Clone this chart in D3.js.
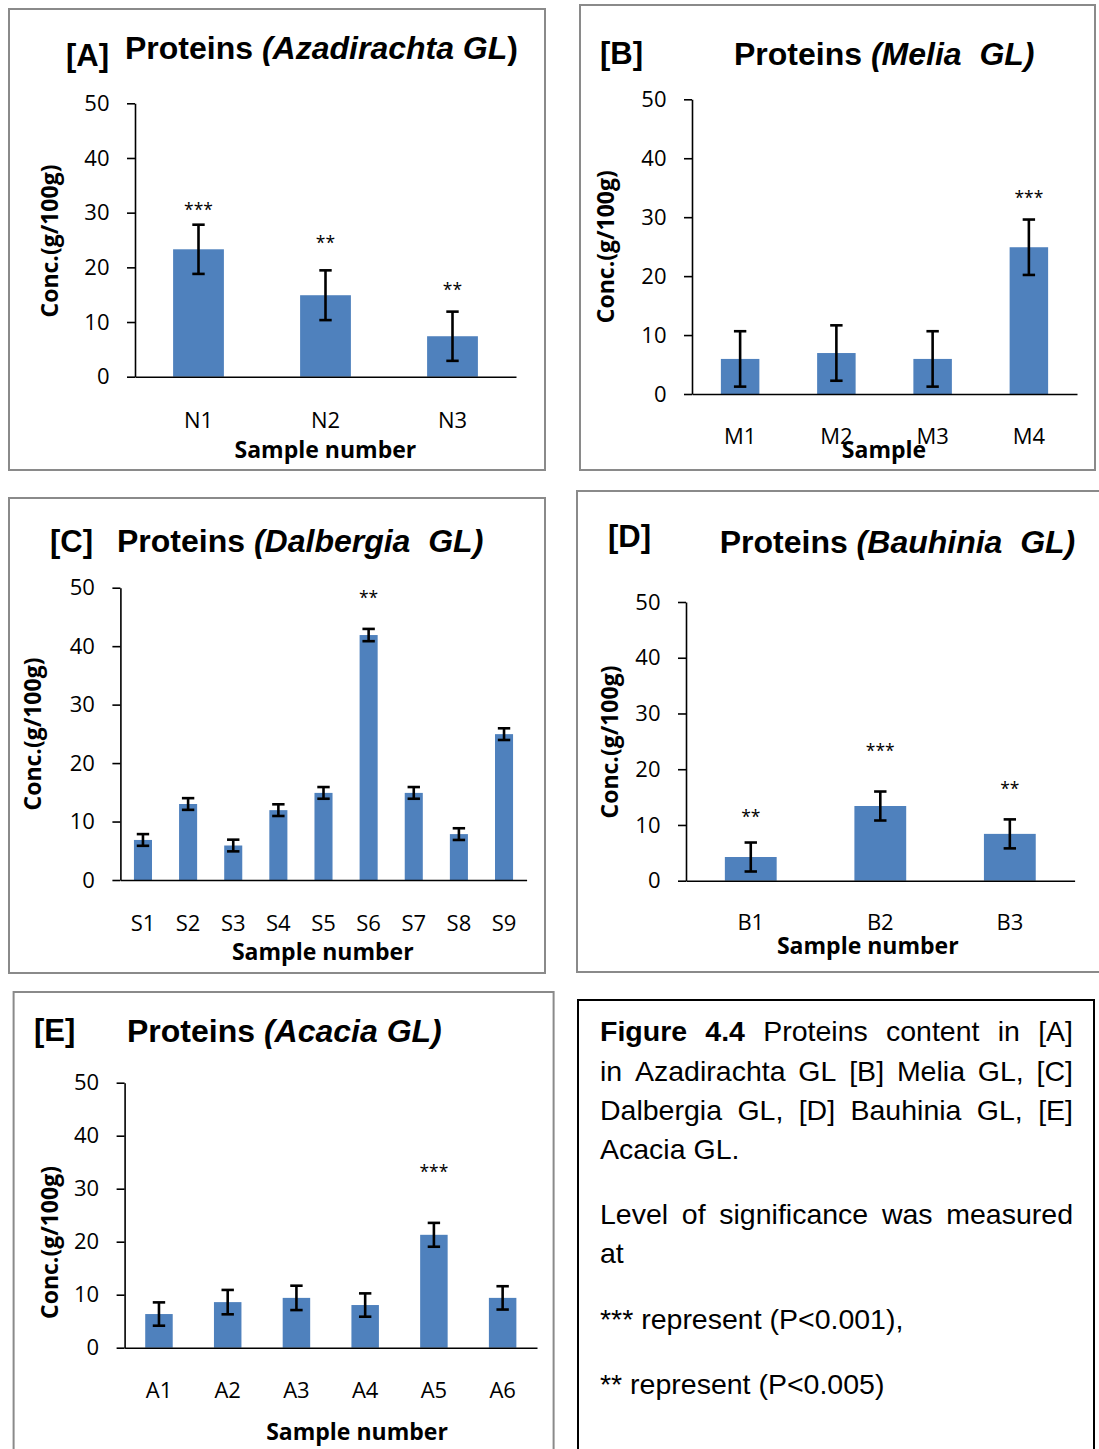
<!DOCTYPE html>
<html>
<head>
<meta charset="utf-8">
<script src="https://cdn.jsdelivr.net/npm/d3@7"></script>
<style>
body { margin: 0; background: #fff; }
text { white-space: pre; }
</style>
</head>
<body>
<script>
// shared y ticks
const yTicks = [0, 10, 20, 30, 40, 50];

// [A] Azadirachta GL
const catsA = ["N1", "N2", "N3"];
const valsA = [23.3, 14.9, 7.4];
const errA = [4.5, 4.55, 4.5];
const starsA = ["***", "**", "**"];
const starAtA = [31.3, 25.1, 16.5];

// [B] Melia GL
const catsB = ["M1", "M2", "M3", "M4"];
const valsB = [5.95, 6.95, 5.95, 24.9];
const errB = [4.7, 4.7, 4.7, 4.7];
const starsB = ["", "", "", "***"];
const starAtB = [0, 0, 0, 33.9];

// [C] Dalbergia GL
const catsC = ["S1", "S2", "S3", "S4", "S5", "S6", "S7", "S8", "S9"];
const valsC = [6.85, 13, 5.9, 11.95, 14.9, 41.9, 14.9, 7.85, 24.95];
const errC = [1, 1, 1, 1, 1, 1.05, 1, 1, 1];
const starsC = ["", "", "", "", "", "**", "", "", ""];
const starAtC = [0, 0, 0, 0, 0, 48.9, 0, 0, 0];

// [D] Bauhinia GL
const catsD = ["B1", "B2", "B3"];
const valsD = [4.25, 13.4, 8.4];
const errD = [2.6, 2.6, 2.6];
const starsD = ["**", "***", "**"];
const starAtD = [12.1, 24.0, 17.1];

// [E] Acacia GL
const catsE = ["A1", "A2", "A3", "A4", "A5", "A6"];
const valsE = [6.35, 8.6, 9.4, 8.05, 21.3, 9.4];
const errE = [2.2, 2.3, 2.3, 2.2, 2.25, 2.2];
const starsE = ["", "", "", "", "***", ""];
const starAtE = [0, 0, 0, 0, 34.0, 0];

const barColor = "#4f81bd";
const axisFont = "'Open Sans', sans-serif";
const titleFont = "'Liberation Sans', Arial, sans-serif";

const panels = [
  {label: "[A]", name: "Azadirachta GL", cats: catsA, vals: valsA, err: errA, stars: starsA, starAt: starAtA,
   frame: [9, 9, 536, 461], left: 135, right: 516, top: 103.3, bottom: 376.7,
   labX: 66, labY: 65.5, titleX: 125, titleY: 58.5, closeUpright: true,
   yTitleX: 58, yTitleY: 241, catY: 427.7, xTitle: "Sample number", xTitleX: 325.4, xTitleY: 458},
  {label: "[B]", name: "Melia  GL", cats: catsB, vals: valsB, err: errB, stars: starsB, starAt: starAtB,
   frame: [580, 5, 515, 465], left: 692, right: 1077, top: 99.3, bottom: 394,
   labX: 600, labY: 63.5, titleX: 734, titleY: 65,
   yTitleX: 614, yTitleY: 246.7, catY: 444, xTitle: "Sample", xTitleX: 884, xTitleY: 458.3},
  {label: "[C]", name: "Dalbergia  GL", cats: catsC, vals: valsC, err: errC, stars: starsC, starAt: starAtC,
   frame: [9, 498, 536, 475], left: 120.4, right: 526.6, top: 587.7, bottom: 880,
   labX: 50, labY: 551.5, titleX: 117, titleY: 551.7,
   yTitleX: 41.4, yTitleY: 734, catY: 930.7, xTitle: "Sample number", xTitleX: 322.8, xTitleY: 960},
  {label: "[D]", name: "Bauhinia  GL", cats: catsD, vals: valsD, err: errD, stars: starsD, starAt: starAtD,
   frame: [577, 491, 530, 481], left: 686, right: 1074.6, top: 602, bottom: 880.7,
   labX: 608, labY: 547, titleX: 719.7, titleY: 553.3,
   yTitleX: 618, yTitleY: 742, catY: 930, xTitle: "Sample number", xTitleX: 867.8, xTitleY: 954},
  {label: "[E]", name: "Acacia GL", cats: catsE, vals: valsE, err: errE, stars: starsE, starAt: starAtE,
   frame: [13.6, 992, 540, 470], left: 124.6, right: 537, top: 1082.7, bottom: 1347.7,
   labX: 34, labY: 1041, titleX: 127, titleY: 1042.3,
   yTitleX: 58.4, yTitleY: 1242.5, catY: 1397.7, xTitle: "Sample number", xTitleX: 357, xTitleY: 1440}
];

const svg = d3.select("body")
  .append("svg")
  .attr("width", 1099)
  .attr("height", 1449);

svg.append("rect").attr("width", 1099).attr("height", 1449).attr("fill", "#fff");

panels.forEach(drawPanel);

function drawPanel(p) {
  const g = svg.append("g");

  g.append("rect")
    .attr("x", p.frame[0]).attr("y", p.frame[1])
    .attr("width", p.frame[2]).attr("height", p.frame[3])
    .attr("fill", "none")
    .attr("stroke", "#8a8a8a")
    .attr("stroke-width", 2);

  let data = p.cats.map((c, i) => ({cat: c, v: p.vals[i], e: p.err[i], star: p.stars[i], sy: p.starAt[i]}));

  let x = d3.scaleBand()
    .domain(p.cats)
    .range([p.left, p.right])
    .paddingInner(0.6)
    .paddingOuter(0.3);            // bar = 40% of each slot, like excel gap 150%

  let y = d3.scaleLinear()
    .domain([0, 50])
    .range([p.bottom, p.top]);

  // bars
  g.selectAll(".bar")
    .data(data)
    .enter()
    .append("rect")
      .attr("x", d => x(d.cat))
      .attr("y", d => y(d.v))
      .attr("width", x.bandwidth())
      .attr("height", d => y(0) - y(d.v))
      .attr("fill", barColor);

  // error bars
  const cap = 6.2;
  let eb = g.selectAll(".err")
    .data(data)
    .enter()
    .append("g")
      .attr("stroke", "#000")
      .attr("stroke-width", 2.6);
  eb.append("line")
    .attr("x1", d => x(d.cat) + x.bandwidth() / 2)
    .attr("x2", d => x(d.cat) + x.bandwidth() / 2)
    .attr("y1", d => y(d.v + d.e))
    .attr("y2", d => y(d.v - d.e));
  eb.append("line")
    .attr("x1", d => x(d.cat) + x.bandwidth() / 2 - cap)
    .attr("x2", d => x(d.cat) + x.bandwidth() / 2 + cap)
    .attr("y1", d => y(d.v + d.e))
    .attr("y2", d => y(d.v + d.e));
  eb.append("line")
    .attr("x1", d => x(d.cat) + x.bandwidth() / 2 - cap)
    .attr("x2", d => x(d.cat) + x.bandwidth() / 2 + cap)
    .attr("y1", d => y(d.v - d.e))
    .attr("y2", d => y(d.v - d.e));

  // significance stars
  g.selectAll(".star")
    .data(data.filter(d => d.star))
    .enter()
    .append("text")
      .attr("x", d => x(d.cat) + x.bandwidth() / 2)
      .attr("y", d => y(d.sy) + 10)
      .attr("text-anchor", "middle")
      .attr("font-family", axisFont)
      .attr("font-size", 17.5)
      .attr("fill", "#000")
      .text(d => d.star);

  // axes
  let yAxis = g.append("g")
    .attr("transform", `translate(${p.left}, 0)`)
    .call(d3.axisLeft(y).tickValues(yTicks).tickSize(8).tickSizeOuter(0).tickPadding(17.5));

  let xAxis = g.append("g")
    .attr("transform", `translate(0, ${p.bottom})`)
    .call(d3.axisBottom(x).tickSize(0).tickSizeOuter(0));

  [yAxis, xAxis].forEach(a => {
    a.select(".domain").attr("stroke", "#000").attr("stroke-width", 1.6);
    a.selectAll(".tick line").attr("stroke", "#000").attr("stroke-width", 1.6);
    a.selectAll("text")
      .attr("font-family", axisFont)
      .attr("font-size", 22)
      .attr("fill", "#000");
  });
  xAxis.selectAll("text")
    .attr("y", p.catY - p.bottom)
    .attr("dy", null);

  // titles
  g.append("text")
    .attr("x", p.labX).attr("y", p.labY)
    .attr("font-family", titleFont)
    .attr("font-weight", "bold")
    .attr("font-size", 31)
    .text(p.label);

  let t = g.append("text")
    .attr("x", p.titleX).attr("y", p.titleY)
    .attr("font-family", titleFont)
    .attr("font-weight", "bold")
    .attr("font-size", 32);
  t.append("tspan").text("Proteins ");
  t.append("tspan").attr("font-style", "italic").text("(" + p.name);
  t.append("tspan").attr("font-style", p.closeUpright ? "normal" : "italic").text(")");

  g.append("text")
    .attr("transform", `translate(${p.yTitleX}, ${p.yTitleY}) rotate(-90)`)
    .attr("text-anchor", "middle")
    .attr("font-family", axisFont)
    .attr("font-weight", "bold")
    .attr("font-size", 23)
    .text("Conc.(g/100g)");

  g.append("text")
    .attr("x", p.xTitleX).attr("y", p.xTitleY)
    .attr("text-anchor", "middle")
    .attr("font-family", axisFont)
    .attr("font-weight", "bold")
    .attr("font-size", 23)
    .text(p.xTitle);
}

// caption box
const cap = svg.append("g");
cap.append("rect")
  .attr("x", 578).attr("y", 1000)
  .attr("width", 516).attr("height", 470)
  .attr("fill", "none")
  .attr("stroke", "#000")
  .attr("stroke-width", 2);

const capLeft = 600, capRight = 1073, capSize = 28.5;
const capLines = [
  {y: 1041, just: true, words: [["Figure", 1], ["4.4", 1], ["Proteins"], ["content"], ["in"], ["[A]"]]},
  {y: 1081, just: true, words: [["in"], ["Azadirachta"], ["GL"], ["[B]"], ["Melia"], ["GL,"], ["[C]"]]},
  {y: 1120, just: true, words: [["Dalbergia"], ["GL,"], ["[D]"], ["Bauhinia"], ["GL,"], ["[E]"]]},
  {y: 1159, words: [["Acacia GL."]]},
  {y: 1224, just: true, words: [["Level"], ["of"], ["significance"], ["was"], ["measured"]]},
  {y: 1263, words: [["at"]]},
  {y: 1329, words: [["*** represent (P<0.001),"]]},
  {y: 1394, words: [["** represent (P<0.005)"]]}
];

capLines.forEach(line => {
  let nodes = line.words.map(w => cap.append("text")
    .attr("y", line.y)
    .attr("font-family", titleFont)
    .attr("font-size", capSize)
    .attr("font-weight", w[1] ? "bold" : "normal")
    .attr("fill", "#000")
    .text(w[0]));
  let widths = nodes.map(n => n.node().getComputedTextLength());
  let total = d3.sum(widths);
  let gap = line.just && nodes.length > 1 ? (capRight - capLeft - total) / (nodes.length - 1) : capSize * 0.278;
  let xx = capLeft;
  nodes.forEach((n, i) => {
    n.attr("x", xx);
    xx += widths[i] + gap;
  });
});
</script>
</body>
</html>
